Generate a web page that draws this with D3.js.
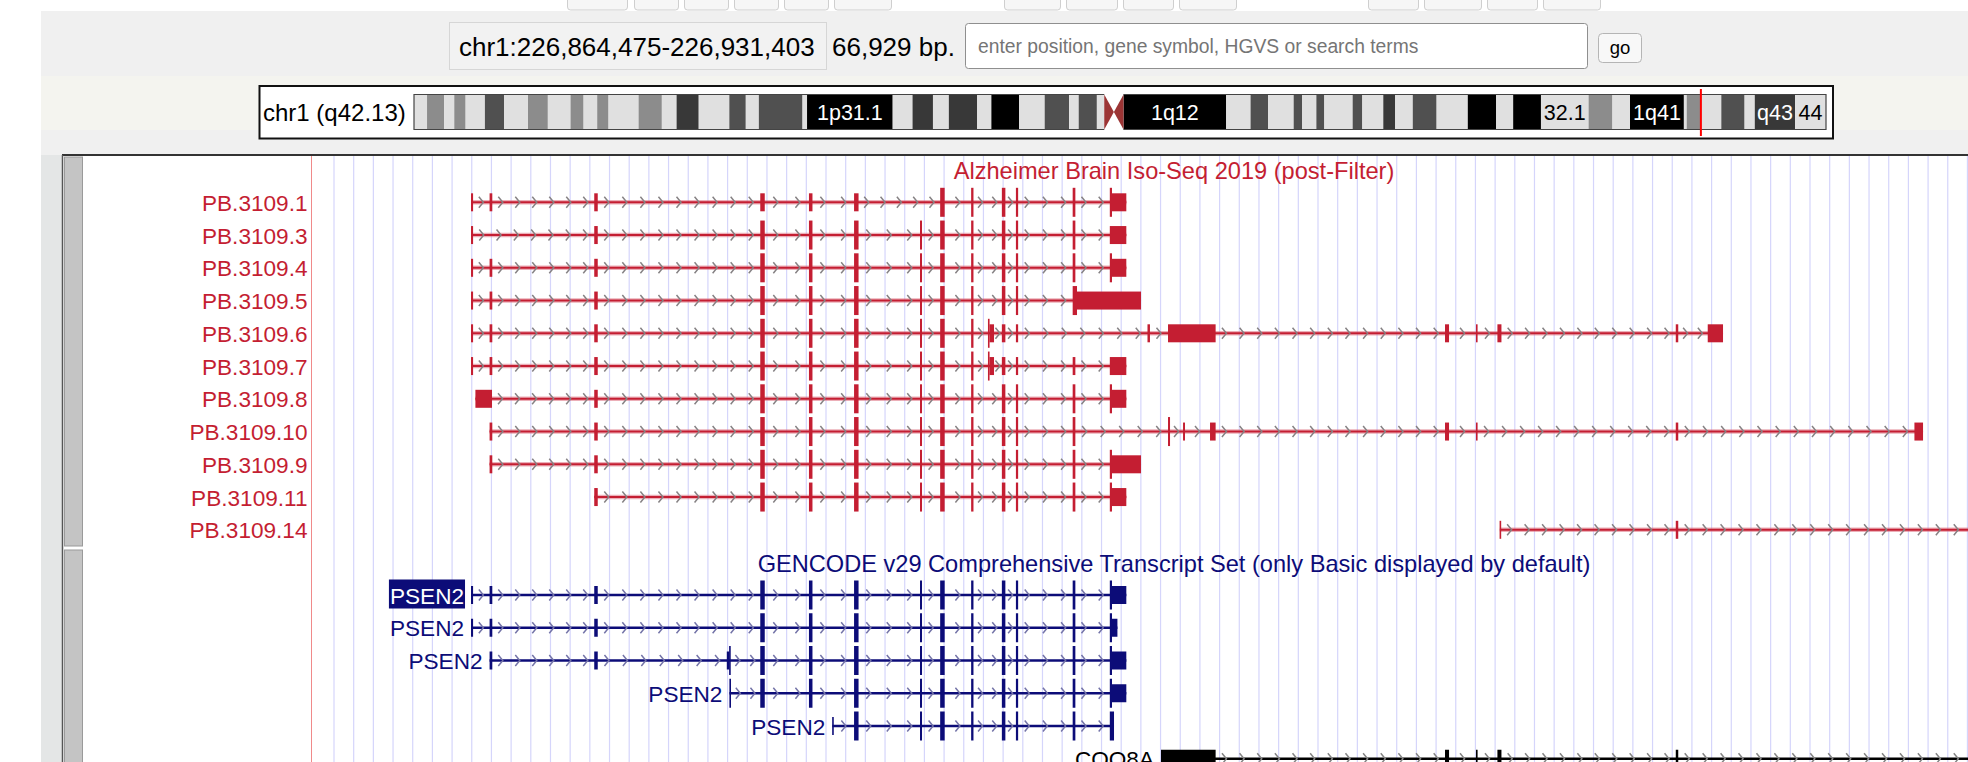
<!DOCTYPE html>
<html>
<head>
<meta charset="utf-8">
<script src="https://cdn.jsdelivr.net/npm/d3@7"></script>
<style>
  html, body { margin: 0; padding: 0; background: #ffffff; }
  svg { display: block; }
</style>
</head>
<body>
<svg id="chart" width="1968" height="762"></svg>
<script>
// ---------------- data ----------------
const positionText = "chr1:226,864,475-226,931,403";
const sizeText = "66,929 bp.";
const searchPlaceholder = "enter position, gene symbol, HGVS or search terms";
const goText = "go";
const chromLabel = "chr1 (q42.13)";
const chromLength = 248956422;
const windowStart = 226864475;
const windowEnd = 226931403;

// chr1 cytobands (end positions, Mb) with stains
const bandNames = ["1p36.33","1p36.32","1p36.31","1p36.23","1p36.22","1p36.21","1p36.13","1p36.12","1p36.11","1p35.3","1p35.2","1p35.1","1p34.3","1p34.2","1p34.1","1p33","1p32.3","1p32.2","1p32.1","1p31.3","1p31.2","1p31.1","1p22.3","1p22.2","1p22.1","1p21.3","1p21.2","1p21.1","1p13.3","1p13.2","1p13.1","1p12","1p11.2","1p11.1","1q11","1q12","1q21.1","1q21.2","1q21.3","1q22","1q23.1","1q23.2","1q23.3","1q24.1","1q24.2","1q24.3","1q25.1","1q25.2","1q25.3","1q31.1","1q31.2","1q31.3","1q32.1","1q32.2","1q32.3","1q41","1q42.11","1q42.12","1q42.13","1q42.2","1q42.3","1q43","1q44"];
const bandEndsMb = [2.3,5.3,7.1,9.1,12.5,15.9,20.1,23.6,27.6,29.9,32.3,34.3,39.6,43.7,46.3,50.2,55.6,58.5,60.8,68.5,69.3,84.4,87.9,91.5,94.3,99.3,101.8,106.7,111.2,115.5,117.2,120.4,121.7,123.4,125.1,143.2,147.5,150.6,155.1,156.6,159.1,160.5,165.5,167.2,170.9,173.0,176.1,180.3,185.8,190.8,193.8,198.7,207.1,211.3,214.4,223.9,224.4,226.8,230.5,234.6,236.4,243.5,248.956422];
const bandStains = ["gneg","gpos25","gneg","gpos25","gneg","gpos50","gneg","gpos25","gneg","gpos25","gneg","gpos25","gneg","gpos25","gneg","gpos75","gneg","gpos50","gneg","gpos50","gneg","gpos100","gneg","gpos75","gneg","gpos75","gneg","gpos100","gneg","gpos50","gneg","gpos50","gneg","acen","acen","gvar","gneg","gpos50","gneg","gpos50","gneg","gpos50","gneg","gpos50","gneg","gpos75","gneg","gpos50","gneg","gpos100","gneg","gpos100","gneg","gpos25","gneg","gpos100","gneg","gpos25","gneg","gpos50","gneg","gpos75","gneg"];

// Iso-Seq track
const isoTitle = "Alzheimer Brain Iso-Seq 2019 (post-Filter)";
const isoLabels = ["PB.3109.1","PB.3109.3","PB.3109.4","PB.3109.5","PB.3109.6","PB.3109.7","PB.3109.8","PB.3109.10","PB.3109.9","PB.3109.11","PB.3109.14"];
const isoExons = [
  [[226870680,226870760],[226871400,226871505],[226875458,226875594],[226881896,226882070],[226883784,226883920],[226885533,226885707],[226888872,226889046],[226890073,226890163],[226891264,226891400],[226891809,226891895],[226894010,226894114],[226895450,226896090]],
  [[226870680,226870760],[226875458,226875594],[226881896,226882070],[226883784,226883920],[226885533,226885707],[226888090,226888168],[226888872,226889046],[226890073,226890163],[226891264,226891400],[226891809,226891895],[226894010,226894114],[226895450,226896090]],
  [[226870680,226870760],[226871400,226871505],[226875458,226875594],[226881896,226882070],[226883784,226883920],[226885533,226885707],[226888090,226888168],[226888872,226889046],[226890073,226890163],[226891264,226891400],[226891809,226891895],[226894010,226894114],[226895450,226896090]],
  [[226870680,226870760],[226871400,226871505],[226875458,226875594],[226881896,226882070],[226883784,226883920],[226885533,226885707],[226888090,226888168],[226888872,226889046],[226890073,226890163],[226891264,226891400],[226891809,226891895],[226894010,226896660]],
  [[226870680,226870760],[226871400,226871505],[226875458,226875594],[226881896,226882070],[226883784,226883920],[226885533,226885707],[226888090,226888168],[226888872,226889046],[226890073,226890163],[226890727,226890960],[226891264,226891400],[226891809,226891895],[226896911,226897007],[226897707,226899553],[226908448,226908604],[226909650,226909710],[226910480,226910636],[226917396,226917492],[226918635,226919228]],
  [[226870680,226870760],[226871400,226871505],[226875458,226875594],[226881896,226882070],[226883784,226883920],[226885533,226885707],[226888090,226888168],[226888872,226889046],[226890073,226890163],[226890727,226890960],[226891264,226891400],[226891809,226891895],[226894010,226894114],[226895450,226896090]],
  [[226870850,226871494],[226875458,226875594],[226881896,226882070],[226883784,226883920],[226885533,226885707],[226888090,226888168],[226888872,226889046],[226890073,226890163],[226891264,226891400],[226891809,226891895],[226894010,226894114],[226895450,226896090]],
  [[226871400,226871505],[226875458,226875594],[226881896,226882070],[226883784,226883920],[226885533,226885707],[226888090,226888168],[226888872,226889046],[226890073,226890163],[226891264,226891400],[226891809,226891895],[226894010,226894114],[226897707,226897785],[226898290,226898365],[226899336,226899553],[226908448,226908604],[226909650,226909710],[226917396,226917492],[226926650,226926984]],
  [[226871400,226871505],[226875458,226875594],[226881896,226882070],[226883784,226883920],[226885533,226885707],[226888090,226888168],[226888872,226889046],[226890073,226890163],[226891264,226891400],[226891809,226891895],[226894010,226894114],[226895450,226896660]],
  [[226875458,226875594],[226881896,226882070],[226883784,226883920],[226885533,226885707],[226888090,226888168],[226888872,226889046],[226890073,226890163],[226891264,226891400],[226891809,226891895],[226894010,226894114],[226895450,226896090]],
  [[226910575,226910615],[226917396,226917492]]
];
const isoThick = [[226888872,226895535],[226881896,226894114],[226881896,226895535],[226881896,226894178],[226881896,226890785],[226881896,226890785],[226881896,226895535],[226881896,226897785],[226881896,226895535],[226881896,226895535],null];
const isoRunsOff = [false,false,false,false,false,false,false,false,false,false,true];

// GENCODE track
const geneTitle = "GENCODE v29 Comprehensive Transcript Set (only Basic displayed by default)";
const geneLabels = ["PSEN2","PSEN2","PSEN2","PSEN2","PSEN2","COQ8A"];
const geneColors = ["#0c0c78","#0c0c78","#0c0c78","#0c0c78","#0c0c78","#000000"];
const geneExons = [
  [[226870680,226870760],[226871400,226871505],[226875458,226875594],[226881896,226882070],[226883784,226883920],[226885533,226885707],[226888090,226888168],[226888872,226889046],[226890073,226890163],[226891264,226891400],[226891809,226891895],[226894010,226894114],[226895450,226896090]],
  [[226870680,226870760],[226871400,226871505],[226875458,226875594],[226881896,226882070],[226883784,226883920],[226885533,226885707],[226888090,226888168],[226888872,226889046],[226890073,226890163],[226891264,226891400],[226891809,226891895],[226894010,226894114],[226895450,226895745]],
  [[226871400,226871505],[226875458,226875594],[226880598,226880738],[226881896,226882070],[226883784,226883920],[226885533,226885707],[226888090,226888168],[226888872,226889046],[226890073,226890163],[226891264,226891400],[226891809,226891895],[226894010,226894114],[226895450,226896090]],
  [[226880700,226880760],[226881896,226882070],[226883784,226883920],[226885533,226885707],[226888090,226888168],[226888872,226889046],[226890073,226890163],[226891264,226891400],[226891809,226891895],[226894010,226894114],[226895450,226896090]],
  [[226884690,226884740],[226885533,226885707],[226888090,226888168],[226888872,226889046],[226890073,226890163],[226891264,226891400],[226891809,226891895],[226894010,226894114],[226895450,226895613]],
  [[226897435,226899553],[226908448,226908604],[226909650,226909710],[226910480,226910636],[226917396,226917492]]
];
const geneThick = [[226881896,226895535],[226881896,226895535],[226880700,226895535],[226880700,226895535],[226885533,226895613],null];
const geneRunsOff = [false,false,false,false,false,true];
const geneHighlighted = [true,false,false,false,false,false];

// ---------------- drawing ----------------
const W = 1968, H = 762;
const FONT = '"Liberation Sans", Arial, Helvetica, sans-serif';
const ISO_RED = "#c41e32";
const LABEL_SIZE = 22.6, TITLE_SIZE = 23.6;
const svg = d3.select("#chart").attr("font-family", FONT);

// page backgrounds
svg.append("rect").attr("width", W).attr("height", H).attr("fill", "#ffffff");
svg.append("rect").attr("x", 41).attr("y", 11).attr("width", W - 41).attr("height", 150).attr("fill", "#f0f0f0");
svg.append("rect").attr("x", 41).attr("y", 76).attr("width", W - 41).attr("height", 54).attr("fill", "#f4f4ef");

// navigation buttons peeking in at the top
const navButtons = [[567,627],[634,678],[684,728],[734,778],[784,828],[834,891],[1004,1060],[1066,1117],[1123,1173],[1179,1236],[1368,1418],[1424,1481],[1487,1537],[1543,1600]];
svg.append("g").selectAll("rect").data(navButtons).join("rect")
  .attr("x", d => d[0] + 0.5).attr("y", -8).attr("width", d => d[1] - d[0]).attr("height", 18)
  .attr("rx", 3).attr("fill", "#f6f6f6").attr("stroke", "#cfcfcf");

// position box, size, search input, go button
const header = svg.append("g");
header.append("rect").attr("x", 449.5).attr("y", 22.5).attr("width", 377).attr("height", 47)
  .attr("fill", "#f2f2f2").attr("stroke", "#d6d6d6");
header.append("text").attr("x", 459).attr("y", 56).attr("font-size", 26).attr("fill", "#000").text(positionText);
header.append("text").attr("x", 832).attr("y", 56).attr("font-size", 26).attr("fill", "#000").text(sizeText);
header.append("rect").attr("x", 965.5).attr("y", 23.5).attr("width", 622).attr("height", 45).attr("rx", 3)
  .attr("fill", "#ffffff").attr("stroke", "#8f8f8f");
header.append("text").attr("x", 978).attr("y", 53).attr("font-size", 19.3).attr("fill", "#757575").text(searchPlaceholder);
header.append("rect").attr("x", 1598.5).attr("y", 33.5).attr("width", 43).attr("height", 29).attr("rx", 4)
  .attr("fill", "#f8f8f8").attr("stroke", "#b5b5b5");
header.append("text").attr("x", 1620).attr("y", 53.5).attr("font-size", 18.5).attr("text-anchor", "middle").attr("fill", "#000").text(goText);

// chromosome ideogram
const ideo = svg.append("g");
ideo.append("rect").attr("x", 259.5).attr("y", 86).attr("width", 1573.5).attr("height", 52.5)
  .attr("fill", "#ffffff").attr("stroke", "#111").attr("stroke-width", 2);
ideo.append("text").attr("x", 263).attr("y", 120.5).attr("font-size", 24).attr("fill", "#000").text(chromLabel);

const cx = d3.scaleLinear().domain([0, chromLength]).range([414, 1826]);
const cTop = 94.5, cBot = 129.5, cMid = (cTop + cBot) / 2;
const stainFill = { gneg: "#e0e0e0", gpos25: "#8c8c8c", gpos50: "#505050", gpos75: "#383838", gpos100: "#000000", gvar: "#000000", acen: "#9c3535" };
const bands = bandNames.map((name, i) => ({
  name, stain: bandStains[i],
  start: i ? bandEndsMb[i - 1] * 1e6 : 0,
  end: Math.min(bandEndsMb[i] * 1e6, chromLength)
}));
const solidBands = bands.filter(b => b.stain !== "acen");
ideo.append("g").selectAll("rect").data(solidBands).join("rect")
  .attr("x", b => cx(b.start)).attr("y", cTop)
  .attr("width", b => cx(b.end) - cx(b.start)).attr("height", cBot - cTop)
  .attr("fill", b => stainFill[b.stain]);
bands.filter(b => b.stain === "acen").forEach(b => {
  const x0 = cx(b.start), x1 = cx(b.end);
  const pts = b.name.includes("p")
    ? [[x0, cTop], [x1, cMid], [x0, cBot]]
    : [[x1, cTop], [x0, cMid], [x1, cBot]];
  ideo.append("path").attr("d", d3.line()(pts) + "Z").attr("fill", stainFill.acen);
});
// chromosome outline, broken at the centromere
const acenBands = bands.filter(b => b.stain === "acen");
const cenStart = cx(acenBands[0].start);
const cenEnd = cx(acenBands[acenBands.length - 1].end);
const outline = d3.path();
outline.moveTo(cenStart, cTop); outline.lineTo(cx(0), cTop); outline.lineTo(cx(0), cBot); outline.lineTo(cenStart, cBot);
outline.moveTo(cenEnd, cTop); outline.lineTo(cx(chromLength), cTop); outline.lineTo(cx(chromLength), cBot); outline.lineTo(cenEnd, cBot);
ideo.append("path").attr("d", outline.toString()).attr("fill", "none").attr("stroke", "#444").attr("stroke-width", 1.2);

// band labels where they fit
const BAND_FONT = 21.5;
const measurer = svg.append("text").attr("font-size", BAND_FONT).attr("visibility", "hidden");
function textWidth(s) { measurer.text(s); return measurer.node().getComputedTextLength(); }
solidBands.forEach(b => {
  const bw = cx(b.end) - cx(b.start);
  const candidates = [b.name, b.name.slice(1), b.name.slice(2)];
  const label = candidates.find(s => textWidth(s) + 3 <= bw);
  if (!label) return;
  const dark = ["gpos50", "gpos75", "gpos100", "gvar"].includes(b.stain);
  ideo.append("text").attr("x", (cx(b.start) + cx(b.end)) / 2).attr("y", cMid + 7.5)
    .attr("font-size", BAND_FONT).attr("text-anchor", "middle").attr("fill", dark ? "#ffffff" : "#000000").text(label);
});
measurer.remove();
// current window marker
const winMid = cx((windowStart + windowEnd) / 2);
ideo.append("line").attr("x1", winMid).attr("x2", winMid).attr("y1", 89).attr("y2", 136)
  .attr("stroke", "#ff0000").attr("stroke-width", 2);

// ---------------- track panel ----------------
const panelTop = 155;
svg.append("rect").attr("x", 41).attr("y", panelTop).attr("width", 21.5).attr("height", H - panelTop).attr("fill", "#e4e6e6");
svg.append("rect").attr("x", 62).attr("y", panelTop + 1).attr("width", W - 62).attr("height", H - panelTop).attr("fill", "#ffffff");
svg.append("line").attr("x1", 62).attr("x2", W).attr("y1", panelTop).attr("y2", panelTop).attr("stroke", "#333").attr("stroke-width", 2);
svg.append("line").attr("x1", 62.5).attr("x2", 62.5).attr("y1", panelTop).attr("y2", H).attr("stroke", "#555").attr("stroke-width", 1.5);
[[157, 546], [550, H + 4]].forEach(([a, b]) => {
  svg.append("rect").attr("x", 64.5).attr("y", a).attr("width", 18).attr("height", b - a)
    .attr("fill", "#c4c4c4").attr("stroke", "#9a9a9a").attr("stroke-width", 1);
});

const x = d3.scaleLinear().domain([windowStart, windowEnd]).range([311, 2037]);
const dataLeft = x.range()[0], dataRight = x.range()[1];
const titleX = (dataLeft + dataRight) / 2;

// vertical guidelines
const guides = d3.range(dataLeft + 23, W, 19.68);
svg.append("g").selectAll("line").data(guides).join("line")
  .attr("x1", d => d).attr("x2", d => d).attr("y1", panelTop + 1).attr("y2", H)
  .attr("stroke", "#d5d5fb").attr("stroke-width", 1.2);
svg.append("line").attr("x1", dataLeft + 0.5).attr("x2", dataLeft + 0.5).attr("y1", panelTop + 1).attr("y2", H)
  .attr("stroke", "#f08a8a").attr("stroke-width", 1);

const isoY = d3.scaleLinear().domain([0, 1]).range([202.3, 235.05]);
const geneY = d3.scaleLinear().domain([0, 1]).range([595, 627.75]);
const THICK_H = 29, THIN_H = 18;

function drawTranscript(layer, exons, thick, runsOff, y, style) {
  const g = layer.append("g");
  const xs = x(exons[0][0]);
  const xe = runsOff ? dataRight : x(exons[exons.length - 1][1]);
  if (style.halo) {
    g.append("line").attr("x1", xs).attr("x2", xe).attr("y1", y).attr("y2", y)
      .attr("stroke", style.halo).attr("stroke-width", 4.5);
  }
  g.append("line").attr("x1", xs).attr("x2", xe).attr("y1", y).attr("y2", y)
    .attr("stroke", style.color).attr("stroke-width", style.lineWidth);
  // direction barbs along each intron
  const gaps = [];
  for (let i = 0; i < exons.length - 1; i++) gaps.push([x(exons[i][1]), x(exons[i + 1][0])]);
  if (runsOff) gaps.push([x(exons[exons.length - 1][1]), dataRight]);
  const barbs = d3.path();
  gaps.forEach(([a, b]) => {
    const w = b - a;
    if (w < 7) return;
    const n = Math.max(1, Math.round(w / 18));
    const step = w / n;
    for (let k = 0; k < n; k++) {
      const tip = a + step * (k + 0.5) + 2;
      barbs.moveTo(tip - 4.5, y - 5.5); barbs.lineTo(tip, y); barbs.lineTo(tip - 4.5, y + 5.5);
    }
  });
  g.append("path").attr("d", barbs.toString()).attr("fill", "none")
    .attr("stroke", style.barb).attr("stroke-width", 1.5);
  // exon blocks: thick = coding, thin = UTR
  exons.forEach(([s, e]) => {
    const parts = [];
    if (!thick) parts.push([s, e, false]);
    else {
      const [ts, te] = thick;
      if (s < ts) parts.push([s, Math.min(e, ts), false]);
      if (e > ts && s < te) parts.push([Math.max(s, ts), Math.min(e, te), true]);
      if (e > te) parts.push([Math.max(s, te), e, false]);
    }
    parts.forEach(([a, b, isThick]) => {
      const h = isThick ? THICK_H : THIN_H;
      let x0 = x(a), w = x(b) - x(a);
      if (w < 1.6) { x0 -= (1.6 - w) / 2; w = 1.6; }
      g.append("rect").attr("x", x0).attr("y", y - h / 2).attr("width", w).attr("height", h).attr("fill", style.color);
    });
  });
}

// Iso-Seq track
const isoLayer = svg.append("g");
isoLayer.append("text").attr("x", titleX).attr("y", 179).attr("font-size", TITLE_SIZE).attr("text-anchor", "middle")
  .attr("fill", ISO_RED).text(isoTitle);
isoLabels.forEach((label, i) => {
  const y = isoY(i);
  isoLayer.append("text").attr("x", 307.5).attr("y", y + 8.5).attr("font-size", LABEL_SIZE).attr("text-anchor", "end")
    .attr("fill", ISO_RED).text(label);
  drawTranscript(isoLayer, isoExons[i], isoThick[i], isoRunsOff[i], y,
    { color: ISO_RED, halo: "rgba(220,110,125,0.55)", lineWidth: 2, barb: "#868284" });
});

// GENCODE track
const geneLayer = svg.append("g");
geneLayer.append("text").attr("x", titleX).attr("y", 571.5).attr("font-size", TITLE_SIZE).attr("text-anchor", "middle")
  .attr("fill", "#0c0c78").text(geneTitle);
geneLabels.forEach((label, i) => {
  const y = geneY(i);
  const color = geneColors[i];
  const lx = x(geneExons[i][0][0]) - 7;
  const t = geneLayer.append("text").attr("x", lx).attr("y", y + 8.5).attr("font-size", LABEL_SIZE).attr("text-anchor", "end")
    .attr("fill", geneHighlighted[i] ? "#ffffff" : color).text(label);
  if (geneHighlighted[i]) {
    const bb = t.node().getBBox();
    geneLayer.insert("rect", () => t.node()).attr("x", bb.x - 1).attr("y", y - 15.5)
      .attr("width", bb.width + 2).attr("height", 29).attr("fill", color);
  }
  drawTranscript(geneLayer, geneExons[i], geneThick[i], geneRunsOff[i], y,
    { color, halo: null, lineWidth: 2.4, barb: color === "#000000" ? "#848484" : "#7474a8" });
});
</script>
</body>
</html>
